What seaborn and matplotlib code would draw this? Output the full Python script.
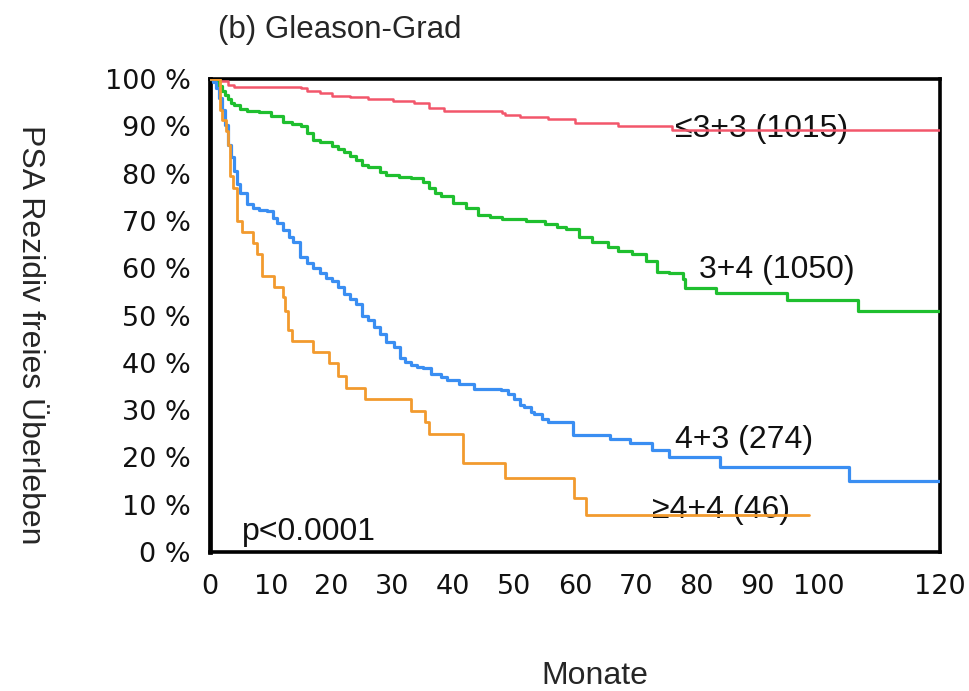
import numpy as np
import pandas as pd
import matplotlib
matplotlib.use("Agg")
import matplotlib.pyplot as plt
import seaborn as sns

# ---------------- data ----------------
groups = ["≤3+3 (1015)", "3+4 (1050)", "4+3 (274)", "≥4+4 (46)"]
colors = ["#F2566B", "#1FBF2F", "#3A8EF2", "#F29A2E"]

red_t = [0, 1.5, 3, 4, 15, 16, 18, 20, 23, 26, 30, 33.5, 36, 38.5, 48, 48.5, 51, 55.5, 60, 67, 76, 120]
red_s = [100, 99.5, 98.8, 98.4, 98.0, 97.5, 97.0, 96.5, 96.1, 95.7, 95.3, 94.9, 93.9, 93.2, 92.8, 92.3, 92.0, 91.5, 90.7, 90.0, 89.2, 89.2]

green_t = [0, 1, 1.5, 2, 2.5, 3, 3.5, 4, 5, 6, 8, 10, 12, 13.5, 15, 16, 17, 18, 20, 21, 22, 23, 24, 25,
           26, 28, 29, 31, 33, 35, 36, 37, 38, 40, 42, 44, 46, 48, 52, 55, 57, 58.6, 60.6, 62.8, 65.5,
           67, 69.4, 71.6, 73.5, 75.5, 77.7, 78, 83.2, 94.8, 106.5, 120]
green_s = [100, 99.4, 98.5, 97.5, 96.6, 95.8, 95.0, 94.5, 93.6, 93.3, 93.0, 92.2, 91.0, 90.4, 90.0, 88.6,
           87.2, 86.6, 85.8, 85.2, 84.5, 83.7, 82.8, 81.8, 81.3, 80.4, 79.8, 79.3, 79.1, 78.2, 77.0, 76.0,
           75.2, 73.8, 72.8, 71.2, 70.8, 70.3, 70.0, 69.3, 68.8, 68.3, 66.7, 65.6, 64.4, 63.7, 63.0, 61.5,
           59.3, 58.9, 57.8, 55.9, 54.8, 53.3, 51.0, 51.0]

blue_t = [0, 0.5, 1, 1.5, 2, 2.5, 3, 3.5, 4, 4.5, 5, 6, 7, 8, 9.3, 10.4, 11, 12, 13, 13.7, 14.8, 15.9,
          17, 18, 19, 20, 21, 22, 23, 24, 25, 26, 27, 28, 29, 30.2, 31.3, 32, 33, 34, 35, 36.3, 38, 39,
          41, 43.4, 47.8, 49, 50, 51, 51.6, 52.8, 53.3, 54.5, 55.5, 59.7, 65.8, 69, 72.7, 75.5, 83.9,
          105, 120]
blue_s = [100, 99.4, 98.0, 96.0, 93.5, 90.3, 86.1, 83.5, 80.5, 77.7, 76.0, 73.5, 72.7, 72.3, 72.0, 70.7,
          69.5, 68.0, 66.5, 65.5, 62.3, 61.0, 60.0, 59.0, 58.0, 57.2, 56.0, 54.5, 53.5, 52.5, 50.0, 49.0,
          47.5, 46.0, 44.5, 43.3, 41.0, 40.2, 39.6, 39.2, 39.0, 37.7, 37.0, 36.3, 35.6, 34.5, 34.2, 33.3,
          32.4, 31.0, 30.6, 29.6, 29.2, 28.1, 27.4, 24.8, 23.9, 23.0, 21.6, 20.1, 17.9, 15.0, 15.0]

orange_t = [0, 1.6, 2.0, 2.6, 3.0, 3.3, 3.8, 4.4, 5.2, 7.0, 7.7, 8.5, 10.5, 12.0, 12.4, 12.9, 13.5,
            17.0, 19.6, 21.0, 22.3, 25.5, 33.0, 35.3, 36.0, 41.6, 48.5, 59.8, 61.8, 98.5]
orange_s = [100, 93.5, 91.3, 89.1, 86.1, 79.5, 77.0, 70.0, 67.7, 65.4, 63.1, 58.4, 56.1, 53.9, 51.0,
            46.9, 44.7, 42.3, 39.9, 37.3, 34.7, 32.4, 29.9, 27.5, 25.0, 18.8, 15.6, 11.5, 7.9, 7.9]

x_ticks = [0, 10, 20, 30, 40, 50, 60, 70, 80, 90, 100, 110, 120]
x_ticklabels = ["0", "10", "20", "30", "40", "50", "60", "70", "80", "90", "100", "", "120"]
y_ticks = [0, 10, 20, 30, 40, 50, 60, 70, 80, 90, 100]
y_ticklabels = [f"{v} %" for v in y_ticks]

label_pos = {"≤3+3 (1015)": (76.4, 89.4), "3+4 (1050)": (80.4, 59.6),
             "4+3 (274)": (76.4, 23.7), "≥4+4 (46)": (72.6, 8.9)}

title = "(b) Gleason-Grad"
ylabel = "PSA Rezidiv freies Überleben"
xlabel = "Monate"
pvalue = "p<0.0001"

# ---------------- build table ----------------
frames = []
for g, t, s in zip(groups, [red_t, green_t, blue_t, orange_t], [red_s, green_s, blue_s, orange_s]):
    assert len(t) == len(s), g
    frames.append(pd.DataFrame({"t": t, "s": s, "group": g}))
df = pd.concat(frames, ignore_index=True)

# ---------------- plot ----------------
sns.set_style("white")
plt.rcParams["font.family"] = ["DejaVu Sans"]

fig = plt.figure(figsize=(9.69, 6.91), dpi=100)
ax = fig.add_axes([210 / 969, 1 - 552 / 691, (940 - 210) / 969, (552 - 79) / 691])

widths = [1.8, 2.3, 2.3, 2.0]
for g, c, lw in zip(groups, colors, widths):
    sns.lineplot(data=df[df["group"] == g], x="t", y="s", color=c, linewidth=lw,
                 drawstyle="steps-post", estimator=None, ax=ax, legend=False, zorder=3)

ax.set_xlim(0, 120)
ax.set_ylim(0, 100)
ax.set_xticks(x_ticks)
ax.set_xticklabels(x_ticklabels)
ax.set_yticks(y_ticks)
ax.set_yticklabels(y_ticklabels)
ax.set_xlabel("")
ax.set_ylabel("")
ax.tick_params(axis="both", direction="out", length=10, width=2.4, labelsize=19.5,
               colors="black", labelcolor="#111111")
ax.tick_params(axis="x", pad=6)
ax.tick_params(axis="y", pad=4)
for side in ["top", "right", "bottom"]:
    ax.spines[side].set_linewidth(2.6)
    ax.spines[side].set_color("black")
ax.spines["left"].set_linewidth(3.4)
ax.spines["left"].set_color("black")

afont = ["Liberation Sans", "DejaVu Sans"]
for g in groups:
    x, y = label_pos[g]
    ax.text(x, y, g, fontsize=23, family=afont, ha="left", va="center", color="#111111", zorder=2)
ax.text(5.3, 4.2, pvalue, fontsize=23, family=afont, ha="left", va="center", color="#111111")

fig.text(218 / 969, 1 - 30 / 691, title, fontsize=22.5, family=afont, ha="left", va="center")
fig.text(30 / 969, 1 - 335 / 691, ylabel, fontsize=23, family=afont, ha="center", va="center",
         rotation=270)
fig.text(595 / 969, 1 - 676 / 691, xlabel, fontsize=23, family=afont, ha="center", va="center")

fig.savefig("out.png", dpi=100, facecolor="white")
